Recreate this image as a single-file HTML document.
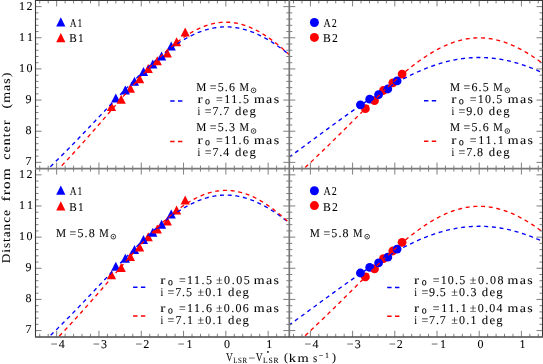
<!DOCTYPE html>
<html><head><meta charset="utf-8">
<style>
html,body{margin:0;padding:0;background:#fff;width:543px;height:364px;overflow:hidden}
svg{display:block;will-change:transform}
text{font-family:"Liberation Serif",serif;font-size:12px;fill:#000;stroke:#000;stroke-width:0.06px;text-rendering:geometricPrecision}
</style></head><body>
<svg width="543" height="364" viewBox="0 0 543 364">
<rect width="543" height="364" fill="#fff"/>
<path d="M111.50,102.10 L106.90,111.10 L116.10,111.10 Z" fill="#ff0000"/><path d="M115.80,93.50 L111.20,102.50 L120.40,102.50 Z" fill="#0000ff"/><path d="M121.20,94.70 L116.60,103.70 L125.80,103.70 Z" fill="#ff0000"/><path d="M130.40,83.80 L125.80,92.80 L135.00,92.80 Z" fill="#ff0000"/><path d="M125.30,85.50 L120.70,94.50 L129.90,94.50 Z" fill="#0000ff"/><path d="M134.50,76.80 L129.90,85.80 L139.10,85.80 Z" fill="#0000ff"/><path d="M139.60,74.20 L135.00,83.20 L144.20,83.20 Z" fill="#ff0000"/><path d="M148.20,64.00 L143.60,73.00 L152.80,73.00 Z" fill="#ff0000"/><path d="M143.50,66.90 L138.90,75.90 L148.10,75.90 Z" fill="#0000ff"/><path d="M152.80,59.50 L148.20,68.50 L157.40,68.50 Z" fill="#0000ff"/><path d="M157.30,56.20 L152.70,65.20 L161.90,65.20 Z" fill="#ff0000"/><path d="M167.30,48.40 L162.70,57.40 L171.90,57.40 Z" fill="#ff0000"/><path d="M161.60,51.50 L157.00,60.50 L166.20,60.50 Z" fill="#0000ff"/><path d="M171.20,41.40 L166.60,50.40 L175.80,50.40 Z" fill="#0000ff"/><path d="M176.60,37.20 L172.00,46.20 L181.20,46.20 Z" fill="#ff0000"/><path d="M185.20,27.40 L180.60,36.40 L189.80,36.40 Z" fill="#ff0000"/>
<circle cx="365.40" cy="108.70" r="4.40" fill="#ff0000"/><circle cx="374.50" cy="100.70" r="4.40" fill="#ff0000"/><circle cx="383.40" cy="90.50" r="4.40" fill="#ff0000"/><circle cx="392.80" cy="82.80" r="4.40" fill="#ff0000"/><circle cx="402.10" cy="74.10" r="4.40" fill="#ff0000"/><circle cx="360.40" cy="104.80" r="4.40" fill="#0000ff"/><circle cx="369.70" cy="99.20" r="4.40" fill="#0000ff"/><circle cx="378.60" cy="94.60" r="4.40" fill="#0000ff"/><circle cx="387.80" cy="89.00" r="4.40" fill="#0000ff"/><circle cx="397.10" cy="80.90" r="4.40" fill="#0000ff"/>
<path d="M111.50,270.30 L106.90,279.30 L116.10,279.30 Z" fill="#ff0000"/><path d="M115.80,261.70 L111.20,270.70 L120.40,270.70 Z" fill="#0000ff"/><path d="M121.20,262.90 L116.60,271.90 L125.80,271.90 Z" fill="#ff0000"/><path d="M130.40,252.00 L125.80,261.00 L135.00,261.00 Z" fill="#ff0000"/><path d="M125.30,253.70 L120.70,262.70 L129.90,262.70 Z" fill="#0000ff"/><path d="M134.50,245.00 L129.90,254.00 L139.10,254.00 Z" fill="#0000ff"/><path d="M139.60,242.40 L135.00,251.40 L144.20,251.40 Z" fill="#ff0000"/><path d="M148.20,232.20 L143.60,241.20 L152.80,241.20 Z" fill="#ff0000"/><path d="M143.50,235.10 L138.90,244.10 L148.10,244.10 Z" fill="#0000ff"/><path d="M152.80,227.70 L148.20,236.70 L157.40,236.70 Z" fill="#0000ff"/><path d="M157.30,224.40 L152.70,233.40 L161.90,233.40 Z" fill="#ff0000"/><path d="M167.30,216.60 L162.70,225.60 L171.90,225.60 Z" fill="#ff0000"/><path d="M161.60,219.70 L157.00,228.70 L166.20,228.70 Z" fill="#0000ff"/><path d="M171.20,209.60 L166.60,218.60 L175.80,218.60 Z" fill="#0000ff"/><path d="M176.60,205.40 L172.00,214.40 L181.20,214.40 Z" fill="#ff0000"/><path d="M185.20,195.60 L180.60,204.60 L189.80,204.60 Z" fill="#ff0000"/>
<circle cx="365.40" cy="276.90" r="4.40" fill="#ff0000"/><circle cx="374.50" cy="268.90" r="4.40" fill="#ff0000"/><circle cx="383.40" cy="258.70" r="4.40" fill="#ff0000"/><circle cx="392.80" cy="251.00" r="4.40" fill="#ff0000"/><circle cx="402.10" cy="242.30" r="4.40" fill="#ff0000"/><circle cx="360.40" cy="273.00" r="4.40" fill="#0000ff"/><circle cx="369.70" cy="267.40" r="4.40" fill="#0000ff"/><circle cx="378.60" cy="262.80" r="4.40" fill="#0000ff"/><circle cx="387.80" cy="257.20" r="4.40" fill="#0000ff"/><circle cx="397.10" cy="249.10" r="4.40" fill="#0000ff"/>
<path d="M60.80,17.30 L56.20,26.60 L65.40,26.60 Z" fill="#0000ff"/>
<path d="M60.80,33.00 L56.20,42.30 L65.40,42.30 Z" fill="#ff0000"/>
<circle cx="314.40" cy="22.50" r="4.50" fill="#0000ff"/>
<circle cx="314.40" cy="37.40" r="4.50" fill="#ff0000"/>
<path d="M60.80,185.50 L56.20,194.80 L65.40,194.80 Z" fill="#0000ff"/>
<path d="M60.80,201.20 L56.20,210.50 L65.40,210.50 Z" fill="#ff0000"/>
<circle cx="314.40" cy="190.70" r="4.50" fill="#0000ff"/>
<circle cx="314.40" cy="205.60" r="4.50" fill="#ff0000"/>
<g fill="none" stroke-width="1.35" stroke-dasharray="4.00 3.70">
<path d="M48.35,168.60 L49.25,167.74 L50.30,166.72 L51.36,165.70 L52.42,164.68 L53.48,163.65 L54.54,162.62 L55.59,161.59 L56.65,160.55 L57.71,159.51 L58.76,158.46 L59.82,157.42 L60.88,156.37 L61.94,155.31 L62.99,154.26 L64.05,153.20 L65.11,152.13 L66.17,151.07 L67.22,150.00 L68.28,148.93 L69.34,147.85 L70.40,146.78 L71.46,145.70 L72.51,144.62 L73.57,143.53 L74.63,142.45 L75.69,141.36 L76.74,140.26 L77.80,139.17 L78.86,138.08 L79.91,136.98 L80.97,135.88 L82.03,134.78 L83.09,133.67 L84.14,132.57 L85.20,131.46 L86.26,130.35 L87.32,129.24 L88.38,128.13 L89.43,127.02 L90.49,125.91 L91.55,124.79 L92.61,123.68 L93.66,122.56 L94.72,121.44 L95.78,120.33 L96.84,119.21 L97.89,118.09 L98.95,116.97 L100.01,115.85 L101.06,114.73 L102.12,113.61 L103.18,112.50 L104.24,111.38 L105.30,110.26 L106.35,109.14 L107.41,108.02 L108.47,106.91 L109.53,105.79 L110.58,104.68 L111.64,103.57 L112.70,102.46 L113.76,101.35 L114.81,100.24 L115.87,99.13 L116.93,98.03 L117.98,96.92 L119.04,95.82 L120.10,94.73 L121.16,93.63 L122.21,92.54 L123.27,91.45 L124.33,90.36 L125.39,89.28 L126.45,88.20 L127.50,87.12 L128.56,86.05 L129.62,84.98 L130.68,83.91 L131.73,82.85 L132.79,81.80 L133.85,80.74 L134.91,79.70 L135.96,78.65 L137.02,77.62 L138.08,76.59 L139.14,75.56 L140.19,74.54 L141.25,73.52 L142.31,72.51 L143.37,71.51 L144.42,70.51 L145.48,69.52 L146.54,68.54 L147.59,67.56 L148.65,66.59 L149.71,65.63 L150.77,64.68 L151.82,63.73 L152.88,62.79 L153.94,61.86 L155.00,60.94 L156.06,60.02 L157.11,59.12 L158.17,58.22 L159.23,57.33 L160.29,56.45 L161.34,55.58 L162.40,54.72 L163.46,53.87 L164.51,53.03 L165.57,52.20 L166.63,51.38 L167.69,50.57 L168.75,49.77 L169.80,48.99 L170.86,48.21 L171.92,47.44 L172.97,46.69 L174.03,45.95 L175.09,45.22 L176.15,44.50 L177.21,43.79 L178.26,43.10 L179.32,42.42 L180.38,41.75 L181.44,41.09 L182.49,40.45 L183.55,39.82 L184.61,39.20 L185.67,38.60 L186.72,38.01 L187.78,37.43 L188.84,36.87 L189.89,36.32 L190.95,35.79 L192.01,35.27 L193.07,34.76 L194.12,34.27 L195.18,33.80 L196.24,33.34 L197.30,32.89 L198.36,32.46 L199.41,32.05 L200.47,31.65 L201.53,31.26 L202.59,30.89 L203.64,30.54 L204.70,30.20 L205.76,29.88 L206.81,29.58 L207.87,29.29 L208.93,29.01 L209.99,28.76 L211.05,28.51 L212.10,28.29 L213.16,28.08 L214.22,27.89 L215.28,27.71 L216.33,27.55 L217.39,27.41 L218.45,27.29 L219.50,27.18 L220.56,27.09 L221.62,27.01 L222.68,26.95 L223.74,26.91 L224.79,26.88 L225.85,26.88 L226.91,26.88 L227.97,26.91 L229.02,26.95 L230.08,27.01 L231.14,27.09 L232.20,27.18 L233.25,27.29 L234.31,27.41 L235.37,27.55 L236.43,27.71 L237.48,27.89 L238.54,28.08 L239.60,28.29 L240.65,28.51 L241.71,28.76 L242.77,29.01 L243.83,29.29 L244.89,29.58 L245.94,29.88 L247.00,30.20 L248.06,30.54 L249.12,30.89 L250.17,31.26 L251.23,31.65 L252.29,32.05 L253.35,32.46 L254.40,32.89 L255.46,33.34 L256.52,33.80 L257.58,34.27 L258.63,34.76 L259.69,35.27 L260.75,35.79 L261.81,36.32 L262.86,36.87 L263.92,37.43 L264.98,38.01 L266.03,38.60 L267.09,39.20 L268.15,39.82 L269.21,40.45 L270.26,41.09 L271.32,41.75 L272.38,42.42 L273.44,43.10 L274.50,43.79 L275.55,44.50 L276.61,45.22 L277.67,45.95 L278.73,46.69 L279.78,47.44 L280.84,48.21 L281.90,48.99 L282.96,49.77 L284.01,50.57 L285.07,51.38 L286.13,52.20 L287.19,53.03 L288.24,53.87 L289.30,54.72" stroke="#0000ff" stroke-dashoffset="4.93"/>
<path d="M58.95,168.60 L59.82,167.70 L60.88,166.60 L61.94,165.49 L62.99,164.38 L64.05,163.26 L65.11,162.14 L66.17,161.02 L67.22,159.89 L68.28,158.76 L69.34,157.62 L70.40,156.48 L71.46,155.34 L72.51,154.19 L73.57,153.04 L74.63,151.88 L75.69,150.72 L76.74,149.56 L77.80,148.40 L78.86,147.23 L79.91,146.05 L80.97,144.88 L82.03,143.70 L83.09,142.52 L84.14,141.33 L85.20,140.14 L86.26,138.95 L87.32,137.76 L88.38,136.56 L89.43,135.36 L90.49,134.16 L91.55,132.96 L92.61,131.75 L93.66,130.54 L94.72,129.33 L95.78,128.12 L96.84,126.91 L97.89,125.69 L98.95,124.47 L100.01,123.26 L101.06,122.04 L102.12,120.82 L103.18,119.59 L104.24,118.37 L105.30,117.15 L106.35,115.92 L107.41,114.70 L108.47,113.47 L109.53,112.25 L110.58,111.02 L111.64,109.79 L112.70,108.57 L113.76,107.34 L114.81,106.12 L115.87,104.90 L116.93,103.67 L117.98,102.45 L119.04,101.23 L120.10,100.01 L121.16,98.80 L122.21,97.58 L123.27,96.37 L124.33,95.16 L125.39,93.95 L126.45,92.74 L127.50,91.54 L128.56,90.33 L129.62,89.14 L130.68,87.94 L131.73,86.75 L132.79,85.56 L133.85,84.38 L134.91,83.20 L135.96,82.03 L137.02,80.86 L138.08,79.69 L139.14,78.53 L140.19,77.38 L141.25,76.23 L142.31,75.08 L143.37,73.94 L144.42,72.81 L145.48,71.69 L146.54,70.57 L147.59,69.46 L148.65,68.35 L149.71,67.25 L150.77,66.16 L151.82,65.08 L152.88,64.01 L153.94,62.94 L155.00,61.88 L156.06,60.83 L157.11,59.79 L158.17,58.76 L159.23,57.74 L160.29,56.73 L161.34,55.73 L162.40,54.74 L163.46,53.76 L164.51,52.79 L165.57,51.83 L166.63,50.88 L167.69,49.94 L168.75,49.02 L169.80,48.11 L170.86,47.21 L171.92,46.32 L172.97,45.44 L174.03,44.58 L175.09,43.73 L176.15,42.89 L177.21,42.07 L178.26,41.26 L179.32,40.47 L180.38,39.69 L181.44,38.92 L182.49,38.17 L183.55,37.43 L184.61,36.71 L185.67,36.00 L186.72,35.31 L187.78,34.64 L188.84,33.98 L189.89,33.34 L190.95,32.71 L192.01,32.10 L193.07,31.51 L194.12,30.93 L195.18,30.37 L196.24,29.83 L197.30,29.31 L198.36,28.80 L199.41,28.31 L200.47,27.84 L201.53,27.39 L202.59,26.95 L203.64,26.53 L204.70,26.14 L205.76,25.76 L206.81,25.40 L207.87,25.05 L208.93,24.73 L209.99,24.43 L211.05,24.14 L212.10,23.88 L213.16,23.63 L214.22,23.40 L215.28,23.19 L216.33,23.01 L217.39,22.84 L218.45,22.69 L219.50,22.56 L220.56,22.45 L221.62,22.36 L222.68,22.29 L223.74,22.24 L224.79,22.21 L225.85,22.20 L226.91,22.21 L227.97,22.24 L229.02,22.29 L230.08,22.36 L231.14,22.45 L232.20,22.56 L233.25,22.69 L234.31,22.84 L235.37,23.01 L236.43,23.19 L237.48,23.40 L238.54,23.63 L239.60,23.88 L240.65,24.14 L241.71,24.43 L242.77,24.73 L243.83,25.05 L244.89,25.40 L245.94,25.76 L247.00,26.14 L248.06,26.53 L249.12,26.95 L250.17,27.39 L251.23,27.84 L252.29,28.31 L253.35,28.80 L254.40,29.31 L255.46,29.83 L256.52,30.37 L257.58,30.93 L258.63,31.51 L259.69,32.10 L260.75,32.71 L261.81,33.34 L262.86,33.98 L263.92,34.64 L264.98,35.31 L266.03,36.00 L267.09,36.71 L268.15,37.43 L269.21,38.17 L270.26,38.92 L271.32,39.69 L272.38,40.47 L273.44,41.26 L274.50,42.07 L275.55,42.89 L276.61,43.73 L277.67,44.58 L278.73,45.44 L279.78,46.32 L280.84,47.21 L281.90,48.11 L282.96,49.02 L284.01,49.94 L285.07,50.88 L286.13,51.83 L287.19,52.79 L288.24,53.76 L289.30,54.74" stroke="#ff0000" stroke-dashoffset="3.64"/>
<path d="M289.30,156.98 L290.36,156.22 L291.41,155.45 L292.47,154.69 L293.52,153.92 L294.57,153.15 L295.63,152.38 L296.69,151.61 L297.74,150.84 L298.80,150.06 L299.85,149.29 L300.91,148.52 L301.96,147.75 L303.02,146.97 L304.07,146.20 L305.12,145.42 L306.18,144.64 L307.24,143.87 L308.29,143.09 L309.34,142.32 L310.40,141.54 L311.45,140.76 L312.51,139.98 L313.56,139.21 L314.62,138.43 L315.68,137.65 L316.73,136.87 L317.79,136.10 L318.84,135.32 L319.90,134.54 L320.95,133.76 L322.00,132.99 L323.06,132.21 L324.12,131.44 L325.17,130.66 L326.23,129.89 L327.28,129.11 L328.34,128.34 L329.39,127.56 L330.44,126.79 L331.50,126.02 L332.56,125.25 L333.61,124.48 L334.67,123.71 L335.72,122.94 L336.77,122.18 L337.83,121.41 L338.88,120.65 L339.94,119.88 L341.00,119.12 L342.05,118.36 L343.11,117.60 L344.16,116.84 L345.22,116.09 L346.27,115.33 L347.32,114.58 L348.38,113.83 L349.44,113.08 L350.49,112.33 L351.55,111.59 L352.60,110.84 L353.65,110.10 L354.71,109.36 L355.76,108.63 L356.82,107.89 L357.88,107.16 L358.93,106.43 L359.99,105.70 L361.04,104.98 L362.10,104.26 L363.15,103.54 L364.21,102.82 L365.26,102.11 L366.31,101.40 L367.37,100.69 L368.43,99.99 L369.48,99.28 L370.53,98.59 L371.59,97.89 L372.64,97.20 L373.70,96.51 L374.75,95.83 L375.81,95.15 L376.87,94.47 L377.92,93.80 L378.98,93.13 L380.03,92.46 L381.09,91.80 L382.14,91.14 L383.19,90.49 L384.25,89.84 L385.31,89.20 L386.36,88.56 L387.42,87.92 L388.47,87.29 L389.52,86.66 L390.58,86.04 L391.63,85.42 L392.69,84.81 L393.75,84.20 L394.80,83.60 L395.86,83.00 L396.91,82.41 L397.97,81.83 L399.02,81.24 L400.07,80.67 L401.13,80.10 L402.19,79.53 L403.24,78.97 L404.30,78.42 L405.35,77.87 L406.40,77.33 L407.46,76.79 L408.51,76.26 L409.57,75.73 L410.62,75.22 L411.68,74.70 L412.74,74.20 L413.79,73.70 L414.85,73.21 L415.90,72.72 L416.95,72.24 L418.01,71.76 L419.07,71.30 L420.12,70.84 L421.18,70.38 L422.23,69.94 L423.28,69.50 L424.34,69.07 L425.39,68.64 L426.45,68.22 L427.50,67.81 L428.56,67.41 L429.62,67.01 L430.67,66.62 L431.73,66.24 L432.78,65.86 L433.84,65.50 L434.89,65.14 L435.95,64.79 L437.00,64.44 L438.06,64.11 L439.11,63.78 L440.16,63.46 L441.22,63.15 L442.27,62.84 L443.33,62.54 L444.38,62.26 L445.44,61.98 L446.50,61.70 L447.55,61.44 L448.61,61.18 L449.66,60.94 L450.72,60.70 L451.77,60.47 L452.83,60.24 L453.88,60.03 L454.94,59.83 L455.99,59.63 L457.04,59.44 L458.10,59.26 L459.16,59.09 L460.21,58.93 L461.26,58.77 L462.32,58.63 L463.38,58.49 L464.43,58.36 L465.49,58.24 L466.54,58.13 L467.60,58.03 L468.65,57.94 L469.71,57.85 L470.76,57.78 L471.81,57.71 L472.87,57.65 L473.92,57.61 L474.98,57.57 L476.03,57.53 L477.09,57.51 L478.14,57.50 L479.20,57.49 L480.25,57.50 L481.31,57.51 L482.37,57.53 L483.42,57.57 L484.48,57.61 L485.53,57.65 L486.59,57.71 L487.64,57.78 L488.69,57.85 L489.75,57.94 L490.81,58.03 L491.86,58.13 L492.92,58.24 L493.97,58.36 L495.02,58.49 L496.08,58.63 L497.13,58.77 L498.19,58.93 L499.25,59.09 L500.30,59.26 L501.36,59.44 L502.41,59.63 L503.47,59.83 L504.52,60.03 L505.57,60.24 L506.63,60.47 L507.68,60.70 L508.74,60.94 L509.79,61.18 L510.85,61.44 L511.91,61.70 L512.96,61.98 L514.01,62.26 L515.07,62.54 L516.12,62.84 L517.18,63.15 L518.24,63.46 L519.29,63.78 L520.35,64.11 L521.40,64.44 L522.46,64.79 L523.51,65.14 L524.57,65.50 L525.62,65.86 L526.67,66.24 L527.73,66.62 L528.78,67.01 L529.84,67.41 L530.89,67.81 L531.95,68.22 L533.00,68.64 L534.06,69.07 L535.12,69.50 L536.17,69.94 L537.23,70.38 L538.28,70.84 L539.34,71.30 L540.39,71.76 L541.44,72.24 L542.50,72.72" stroke="#0000ff" stroke-dashoffset="0.45"/>
<path d="M303.98,168.60 L304.07,168.52 L305.12,167.54 L306.18,166.57 L307.24,165.58 L308.29,164.60 L309.34,163.61 L310.40,162.62 L311.45,161.63 L312.51,160.63 L313.56,159.63 L314.62,158.63 L315.68,157.63 L316.73,156.62 L317.79,155.61 L318.84,154.60 L319.90,153.59 L320.95,152.57 L322.00,151.55 L323.06,150.53 L324.12,149.51 L325.17,148.49 L326.23,147.46 L327.28,146.43 L328.34,145.40 L329.39,144.36 L330.44,143.33 L331.50,142.29 L332.56,141.26 L333.61,140.22 L334.67,139.18 L335.72,138.13 L336.77,137.09 L337.83,136.04 L338.88,135.00 L339.94,133.95 L341.00,132.90 L342.05,131.85 L343.11,130.80 L344.16,129.75 L345.22,128.70 L346.27,127.65 L347.32,126.60 L348.38,125.55 L349.44,124.49 L350.49,123.44 L351.55,122.39 L352.60,121.34 L353.65,120.28 L354.71,119.23 L355.76,118.18 L356.82,117.13 L357.88,116.08 L358.93,115.03 L359.99,113.98 L361.04,112.93 L362.10,111.89 L363.15,110.84 L364.21,109.80 L365.26,108.76 L366.31,107.72 L367.37,106.68 L368.43,105.64 L369.48,104.61 L370.53,103.57 L371.59,102.54 L372.64,101.51 L373.70,100.49 L374.75,99.47 L375.81,98.45 L376.87,97.43 L377.92,96.42 L378.98,95.41 L380.03,94.40 L381.09,93.40 L382.14,92.40 L383.19,91.40 L384.25,90.41 L385.31,89.43 L386.36,88.44 L387.42,87.47 L388.47,86.49 L389.52,85.52 L390.58,84.56 L391.63,83.60 L392.69,82.65 L393.75,81.70 L394.80,80.76 L395.86,79.83 L396.91,78.90 L397.97,77.97 L399.02,77.06 L400.07,76.15 L401.13,75.24 L402.19,74.34 L403.24,73.45 L404.30,72.57 L405.35,71.70 L406.40,70.83 L407.46,69.97 L408.51,69.12 L409.57,68.27 L410.62,67.43 L411.68,66.61 L412.74,65.79 L413.79,64.98 L414.85,64.18 L415.90,63.38 L416.95,62.60 L418.01,61.83 L419.07,61.06 L420.12,60.31 L421.18,59.56 L422.23,58.83 L423.28,58.10 L424.34,57.39 L425.39,56.69 L426.45,55.99 L427.50,55.31 L428.56,54.64 L429.62,53.98 L430.67,53.33 L431.73,52.69 L432.78,52.07 L433.84,51.45 L434.89,50.85 L435.95,50.26 L437.00,49.68 L438.06,49.12 L439.11,48.56 L440.16,48.02 L441.22,47.50 L442.27,46.98 L443.33,46.48 L444.38,45.99 L445.44,45.52 L446.50,45.05 L447.55,44.60 L448.61,44.17 L449.66,43.75 L450.72,43.34 L451.77,42.95 L452.83,42.57 L453.88,42.20 L454.94,41.85 L455.99,41.51 L457.04,41.19 L458.10,40.88 L459.16,40.59 L460.21,40.31 L461.26,40.04 L462.32,39.79 L463.38,39.56 L464.43,39.34 L465.49,39.13 L466.54,38.94 L467.60,38.77 L468.65,38.61 L469.71,38.46 L470.76,38.33 L471.81,38.22 L472.87,38.12 L473.92,38.03 L474.98,37.96 L476.03,37.91 L477.09,37.87 L478.14,37.85 L479.20,37.84 L480.25,37.85 L481.31,37.87 L482.37,37.91 L483.42,37.96 L484.48,38.03 L485.53,38.12 L486.59,38.22 L487.64,38.33 L488.69,38.46 L489.75,38.61 L490.81,38.77 L491.86,38.94 L492.92,39.13 L493.97,39.34 L495.02,39.56 L496.08,39.79 L497.13,40.04 L498.19,40.31 L499.25,40.59 L500.30,40.88 L501.36,41.19 L502.41,41.51 L503.47,41.85 L504.52,42.20 L505.57,42.57 L506.63,42.95 L507.68,43.34 L508.74,43.75 L509.79,44.17 L510.85,44.60 L511.91,45.05 L512.96,45.52 L514.01,45.99 L515.07,46.48 L516.12,46.98 L517.18,47.50 L518.24,48.02 L519.29,48.56 L520.35,49.12 L521.40,49.68 L522.46,50.26 L523.51,50.85 L524.57,51.45 L525.62,52.07 L526.67,52.69 L527.73,53.33 L528.78,53.98 L529.84,54.64 L530.89,55.31 L531.95,55.99 L533.00,56.69 L534.06,57.39 L535.12,58.10 L536.17,58.83 L537.23,59.56 L538.28,60.31 L539.34,61.06 L540.39,61.83 L541.44,62.60 L542.50,63.38" stroke="#ff0000" stroke-dashoffset="5.97"/>
<path d="M49.05,336.80 L49.25,336.61 L50.30,335.59 L51.36,334.57 L52.42,333.54 L53.48,332.51 L54.54,331.48 L55.59,330.44 L56.65,329.40 L57.71,328.36 L58.76,327.31 L59.82,326.27 L60.88,325.21 L61.94,324.16 L62.99,323.10 L64.05,322.04 L65.11,320.97 L66.17,319.90 L67.22,318.83 L68.28,317.76 L69.34,316.68 L70.40,315.60 L71.46,314.52 L72.51,313.43 L73.57,312.35 L74.63,311.26 L75.69,310.17 L76.74,309.07 L77.80,307.97 L78.86,306.88 L79.91,305.77 L80.97,304.67 L82.03,303.57 L83.09,302.46 L84.14,301.35 L85.20,300.24 L86.26,299.13 L87.32,298.02 L88.38,296.90 L89.43,295.79 L90.49,294.67 L91.55,293.55 L92.61,292.43 L93.66,291.31 L94.72,290.19 L95.78,289.07 L96.84,287.95 L97.89,286.82 L98.95,285.70 L100.01,284.58 L101.06,283.45 L102.12,282.33 L103.18,281.21 L104.24,280.08 L105.30,278.96 L106.35,277.84 L107.41,276.72 L108.47,275.60 L109.53,274.48 L110.58,273.36 L111.64,272.24 L112.70,271.12 L113.76,270.01 L114.81,268.90 L115.87,267.78 L116.93,266.67 L117.98,265.57 L119.04,264.46 L120.10,263.36 L121.16,262.26 L122.21,261.16 L123.27,260.06 L124.33,258.97 L125.39,257.88 L126.45,256.80 L127.50,255.72 L128.56,254.64 L129.62,253.56 L130.68,252.49 L131.73,251.42 L132.79,250.36 L133.85,249.30 L134.91,248.25 L135.96,247.20 L137.02,246.16 L138.08,245.12 L139.14,244.09 L140.19,243.06 L141.25,242.04 L142.31,241.03 L143.37,240.02 L144.42,239.01 L145.48,238.02 L146.54,237.03 L147.59,236.05 L148.65,235.07 L149.71,234.10 L150.77,233.14 L151.82,232.19 L152.88,231.24 L153.94,230.31 L155.00,229.38 L156.06,228.46 L157.11,227.55 L158.17,226.64 L159.23,225.75 L160.29,224.87 L161.34,223.99 L162.40,223.12 L163.46,222.27 L164.51,221.42 L165.57,220.59 L166.63,219.76 L167.69,218.95 L168.75,218.14 L169.80,217.35 L170.86,216.57 L171.92,215.80 L172.97,215.04 L174.03,214.29 L175.09,213.55 L176.15,212.83 L177.21,212.12 L178.26,211.42 L179.32,210.73 L180.38,210.06 L181.44,209.40 L182.49,208.75 L183.55,208.12 L184.61,207.50 L185.67,206.89 L186.72,206.29 L187.78,205.71 L188.84,205.15 L189.89,204.60 L190.95,204.06 L192.01,203.53 L193.07,203.03 L194.12,202.53 L195.18,202.05 L196.24,201.59 L197.30,201.14 L198.36,200.71 L199.41,200.29 L200.47,199.88 L201.53,199.50 L202.59,199.12 L203.64,198.77 L204.70,198.43 L205.76,198.10 L206.81,197.80 L207.87,197.50 L208.93,197.23 L209.99,196.97 L211.05,196.73 L212.10,196.50 L213.16,196.29 L214.22,196.10 L215.28,195.92 L216.33,195.76 L217.39,195.62 L218.45,195.49 L219.50,195.38 L220.56,195.29 L221.62,195.21 L222.68,195.15 L223.74,195.11 L224.79,195.08 L225.85,195.08 L226.91,195.08 L227.97,195.11 L229.02,195.15 L230.08,195.21 L231.14,195.29 L232.20,195.38 L233.25,195.49 L234.31,195.62 L235.37,195.76 L236.43,195.92 L237.48,196.10 L238.54,196.29 L239.60,196.50 L240.65,196.73 L241.71,196.97 L242.77,197.23 L243.83,197.50 L244.89,197.80 L245.94,198.10 L247.00,198.43 L248.06,198.77 L249.12,199.12 L250.17,199.50 L251.23,199.88 L252.29,200.29 L253.35,200.71 L254.40,201.14 L255.46,201.59 L256.52,202.05 L257.58,202.53 L258.63,203.03 L259.69,203.53 L260.75,204.06 L261.81,204.60 L262.86,205.15 L263.92,205.71 L264.98,206.29 L266.03,206.89 L267.09,207.50 L268.15,208.12 L269.21,208.75 L270.26,209.40 L271.32,210.06 L272.38,210.73 L273.44,211.42 L274.50,212.12 L275.55,212.83 L276.61,213.55 L277.67,214.29 L278.73,215.04 L279.78,215.80 L280.84,216.57 L281.90,217.35 L282.96,218.14 L284.01,218.95 L285.07,219.76 L286.13,220.59 L287.19,221.42 L288.24,222.27 L289.30,223.12" stroke="#0000ff" stroke-dashoffset="5.47"/>
<path d="M58.58,336.80 L58.76,336.61 L59.82,335.51 L60.88,334.41 L61.94,333.30 L62.99,332.19 L64.05,331.08 L65.11,329.96 L66.17,328.83 L67.22,327.71 L68.28,326.58 L69.34,325.44 L70.40,324.30 L71.46,323.16 L72.51,322.01 L73.57,320.86 L74.63,319.71 L75.69,318.55 L76.74,317.39 L77.80,316.23 L78.86,315.06 L79.91,313.89 L80.97,312.71 L82.03,311.54 L83.09,310.36 L84.14,309.17 L85.20,307.99 L86.26,306.80 L87.32,305.60 L88.38,304.41 L89.43,303.21 L90.49,302.01 L91.55,300.81 L92.61,299.61 L93.66,298.40 L94.72,297.19 L95.78,295.98 L96.84,294.77 L97.89,293.56 L98.95,292.34 L100.01,291.13 L101.06,289.91 L102.12,288.69 L103.18,287.47 L104.24,286.25 L105.30,285.03 L106.35,283.81 L107.41,282.59 L108.47,281.36 L109.53,280.14 L110.58,278.92 L111.64,277.70 L112.70,276.47 L113.76,275.25 L114.81,274.03 L115.87,272.81 L116.93,271.59 L117.98,270.37 L119.04,269.15 L120.10,267.94 L121.16,266.72 L122.21,265.51 L123.27,264.30 L124.33,263.09 L125.39,261.89 L126.45,260.68 L127.50,259.48 L128.56,258.29 L129.62,257.09 L130.68,255.90 L131.73,254.71 L132.79,253.53 L133.85,252.35 L134.91,251.17 L135.96,250.00 L137.02,248.84 L138.08,247.67 L139.14,246.52 L140.19,245.37 L141.25,244.22 L142.31,243.08 L143.37,241.94 L144.42,240.82 L145.48,239.69 L146.54,238.58 L147.59,237.47 L148.65,236.37 L149.71,235.28 L150.77,234.19 L151.82,233.11 L152.88,232.04 L153.94,230.98 L155.00,229.92 L156.06,228.88 L157.11,227.84 L158.17,226.82 L159.23,225.80 L160.29,224.79 L161.34,223.79 L162.40,222.80 L163.46,221.83 L164.51,220.86 L165.57,219.91 L166.63,218.96 L167.69,218.03 L168.75,217.11 L169.80,216.20 L170.86,215.30 L171.92,214.42 L172.97,213.54 L174.03,212.68 L175.09,211.84 L176.15,211.01 L177.21,210.19 L178.26,209.38 L179.32,208.59 L180.38,207.81 L181.44,207.05 L182.49,206.30 L183.55,205.57 L184.61,204.85 L185.67,204.14 L186.72,203.46 L187.78,202.78 L188.84,202.13 L189.89,201.49 L190.95,200.87 L192.01,200.26 L193.07,199.67 L194.12,199.09 L195.18,198.54 L196.24,198.00 L197.30,197.48 L198.36,196.97 L199.41,196.48 L200.47,196.01 L201.53,195.56 L202.59,195.13 L203.64,194.72 L204.70,194.32 L205.76,193.94 L206.81,193.58 L207.87,193.24 L208.93,192.92 L209.99,192.62 L211.05,192.33 L212.10,192.07 L213.16,191.82 L214.22,191.60 L215.28,191.39 L216.33,191.20 L217.39,191.04 L218.45,190.89 L219.50,190.76 L220.56,190.65 L221.62,190.56 L222.68,190.49 L223.74,190.44 L224.79,190.41 L225.85,190.40 L226.91,190.41 L227.97,190.44 L229.02,190.49 L230.08,190.56 L231.14,190.65 L232.20,190.76 L233.25,190.89 L234.31,191.04 L235.37,191.20 L236.43,191.39 L237.48,191.60 L238.54,191.82 L239.60,192.07 L240.65,192.33 L241.71,192.62 L242.77,192.92 L243.83,193.24 L244.89,193.58 L245.94,193.94 L247.00,194.32 L248.06,194.72 L249.12,195.13 L250.17,195.56 L251.23,196.01 L252.29,196.48 L253.35,196.97 L254.40,197.48 L255.46,198.00 L256.52,198.54 L257.58,199.09 L258.63,199.67 L259.69,200.26 L260.75,200.87 L261.81,201.49 L262.86,202.13 L263.92,202.78 L264.98,203.46 L266.03,204.14 L267.09,204.85 L268.15,205.57 L269.21,206.30 L270.26,207.05 L271.32,207.81 L272.38,208.59 L273.44,209.38 L274.50,210.19 L275.55,211.01 L276.61,211.84 L277.67,212.68 L278.73,213.54 L279.78,214.42 L280.84,215.30 L281.90,216.20 L282.96,217.11 L284.01,218.03 L285.07,218.96 L286.13,219.91 L287.19,220.86 L288.24,221.83 L289.30,222.80" stroke="#ff0000" stroke-dashoffset="6.76"/>
<path d="M289.30,324.90 L290.36,324.14 L291.41,323.38 L292.47,322.62 L293.52,321.86 L294.57,321.09 L295.63,320.33 L296.69,319.56 L297.74,318.79 L298.80,318.03 L299.85,317.26 L300.91,316.49 L301.96,315.72 L303.02,314.95 L304.07,314.18 L305.12,313.41 L306.18,312.64 L307.24,311.87 L308.29,311.10 L309.34,310.33 L310.40,309.55 L311.45,308.78 L312.51,308.01 L313.56,307.24 L314.62,306.46 L315.68,305.69 L316.73,304.92 L317.79,304.15 L318.84,303.38 L319.90,302.61 L320.95,301.83 L322.00,301.06 L323.06,300.29 L324.12,299.52 L325.17,298.75 L326.23,297.98 L327.28,297.21 L328.34,296.45 L329.39,295.68 L330.44,294.91 L331.50,294.15 L332.56,293.38 L333.61,292.62 L334.67,291.85 L335.72,291.09 L336.77,290.33 L337.83,289.57 L338.88,288.81 L339.94,288.06 L341.00,287.30 L342.05,286.55 L343.11,285.79 L344.16,285.04 L345.22,284.29 L346.27,283.54 L347.32,282.80 L348.38,282.05 L349.44,281.31 L350.49,280.57 L351.55,279.83 L352.60,279.09 L353.65,278.36 L354.71,277.62 L355.76,276.89 L356.82,276.17 L357.88,275.44 L358.93,274.72 L359.99,274.00 L361.04,273.28 L362.10,272.56 L363.15,271.85 L364.21,271.14 L365.26,270.43 L366.31,269.73 L367.37,269.03 L368.43,268.33 L369.48,267.64 L370.53,266.94 L371.59,266.26 L372.64,265.57 L373.70,264.89 L374.75,264.21 L375.81,263.54 L376.87,262.87 L377.92,262.20 L378.98,261.54 L380.03,260.88 L381.09,260.22 L382.14,259.57 L383.19,258.93 L384.25,258.28 L385.31,257.64 L386.36,257.01 L387.42,256.38 L388.47,255.76 L389.52,255.14 L390.58,254.52 L391.63,253.91 L392.69,253.30 L393.75,252.70 L394.80,252.11 L395.86,251.51 L396.91,250.93 L397.97,250.35 L399.02,249.77 L400.07,249.20 L401.13,248.64 L402.19,248.08 L403.24,247.52 L404.30,246.98 L405.35,246.43 L406.40,245.90 L407.46,245.36 L408.51,244.84 L409.57,244.32 L410.62,243.81 L411.68,243.30 L412.74,242.80 L413.79,242.31 L414.85,241.82 L415.90,241.34 L416.95,240.86 L418.01,240.39 L419.07,239.93 L420.12,239.48 L421.18,239.03 L422.23,238.59 L423.28,238.15 L424.34,237.72 L425.39,237.30 L426.45,236.89 L427.50,236.48 L428.56,236.08 L429.62,235.69 L430.67,235.31 L431.73,234.93 L432.78,234.56 L433.84,234.20 L434.89,233.84 L435.95,233.49 L437.00,233.15 L438.06,232.82 L439.11,232.50 L440.16,232.18 L441.22,231.87 L442.27,231.57 L443.33,231.28 L444.38,230.99 L445.44,230.72 L446.50,230.45 L447.55,230.19 L448.61,229.93 L449.66,229.69 L450.72,229.45 L451.77,229.22 L452.83,229.00 L453.88,228.79 L454.94,228.59 L455.99,228.40 L457.04,228.21 L458.10,228.03 L459.16,227.86 L460.21,227.70 L461.26,227.55 L462.32,227.41 L463.38,227.27 L464.43,227.14 L465.49,227.03 L466.54,226.92 L467.60,226.82 L468.65,226.72 L469.71,226.64 L470.76,226.57 L471.81,226.50 L472.87,226.44 L473.92,226.40 L474.98,226.36 L476.03,226.33 L477.09,226.30 L478.14,226.29 L479.20,226.29 L480.25,226.29 L481.31,226.30 L482.37,226.33 L483.42,226.36 L484.48,226.40 L485.53,226.44 L486.59,226.50 L487.64,226.57 L488.69,226.64 L489.75,226.72 L490.81,226.82 L491.86,226.92 L492.92,227.03 L493.97,227.14 L495.02,227.27 L496.08,227.41 L497.13,227.55 L498.19,227.70 L499.25,227.86 L500.30,228.03 L501.36,228.21 L502.41,228.40 L503.47,228.59 L504.52,228.79 L505.57,229.00 L506.63,229.22 L507.68,229.45 L508.74,229.69 L509.79,229.93 L510.85,230.19 L511.91,230.45 L512.96,230.72 L514.01,230.99 L515.07,231.28 L516.12,231.57 L517.18,231.87 L518.24,232.18 L519.29,232.50 L520.35,232.82 L521.40,233.15 L522.46,233.49 L523.51,233.84 L524.57,234.20 L525.62,234.56 L526.67,234.93 L527.73,235.31 L528.78,235.69 L529.84,236.08 L530.89,236.48 L531.95,236.89 L533.00,237.30 L534.06,237.72 L535.12,238.15 L536.17,238.59 L537.23,239.03 L538.28,239.48 L539.34,239.93 L540.39,240.39 L541.44,240.86 L542.50,241.34" stroke="#0000ff" stroke-dashoffset="0.78"/>
<path d="M303.98,336.80 L304.07,336.72 L305.12,335.74 L306.18,334.76 L307.24,333.78 L308.29,332.80 L309.34,331.81 L310.40,330.83 L311.45,329.83 L312.51,328.84 L313.56,327.84 L314.62,326.84 L315.68,325.84 L316.73,324.83 L317.79,323.83 L318.84,322.82 L319.90,321.80 L320.95,320.79 L322.00,319.77 L323.06,318.75 L324.12,317.73 L325.17,316.71 L326.23,315.68 L327.28,314.65 L328.34,313.62 L329.39,312.59 L330.44,311.56 L331.50,310.53 L332.56,309.49 L333.61,308.45 L334.67,307.41 L335.72,306.37 L336.77,305.33 L337.83,304.29 L338.88,303.24 L339.94,302.20 L341.00,301.15 L342.05,300.10 L343.11,299.05 L344.16,298.00 L345.22,296.95 L346.27,295.91 L347.32,294.85 L348.38,293.80 L349.44,292.75 L350.49,291.70 L351.55,290.65 L352.60,289.60 L353.65,288.55 L354.71,287.50 L355.76,286.45 L356.82,285.40 L357.88,284.35 L358.93,283.31 L359.99,282.26 L361.04,281.21 L362.10,280.17 L363.15,279.13 L364.21,278.08 L365.26,277.04 L366.31,276.01 L367.37,274.97 L368.43,273.93 L369.48,272.90 L370.53,271.87 L371.59,270.84 L372.64,269.82 L373.70,268.79 L374.75,267.77 L375.81,266.75 L376.87,265.74 L377.92,264.73 L378.98,263.72 L380.03,262.72 L381.09,261.72 L382.14,260.72 L383.19,259.73 L384.25,258.74 L385.31,257.75 L386.36,256.77 L387.42,255.80 L388.47,254.82 L389.52,253.86 L390.58,252.90 L391.63,251.94 L392.69,250.99 L393.75,250.05 L394.80,249.11 L395.86,248.17 L396.91,247.24 L397.97,246.32 L399.02,245.41 L400.07,244.50 L401.13,243.60 L402.19,242.70 L403.24,241.82 L404.30,240.93 L405.35,240.06 L406.40,239.19 L407.46,238.34 L408.51,237.49 L409.57,236.64 L410.62,235.81 L411.68,234.98 L412.74,234.17 L413.79,233.36 L414.85,232.56 L415.90,231.77 L416.95,230.99 L418.01,230.21 L419.07,229.45 L420.12,228.70 L421.18,227.96 L422.23,227.22 L423.28,226.50 L424.34,225.79 L425.39,225.09 L426.45,224.39 L427.50,223.71 L428.56,223.04 L429.62,222.39 L430.67,221.74 L431.73,221.10 L432.78,220.48 L433.84,219.87 L434.89,219.27 L435.95,218.68 L437.00,218.10 L438.06,217.54 L439.11,216.99 L440.16,216.45 L441.22,215.92 L442.27,215.41 L443.33,214.91 L444.38,214.42 L445.44,213.94 L446.50,213.48 L447.55,213.04 L448.61,212.60 L449.66,212.18 L450.72,211.77 L451.77,211.38 L452.83,211.00 L453.88,210.64 L454.94,210.29 L455.99,209.95 L457.04,209.63 L458.10,209.32 L459.16,209.03 L460.21,208.75 L461.26,208.48 L462.32,208.24 L463.38,208.00 L464.43,207.78 L465.49,207.58 L466.54,207.39 L467.60,207.21 L468.65,207.05 L469.71,206.91 L470.76,206.78 L471.81,206.66 L472.87,206.56 L473.92,206.48 L474.98,206.41 L476.03,206.36 L477.09,206.32 L478.14,206.30 L479.20,206.29 L480.25,206.30 L481.31,206.32 L482.37,206.36 L483.42,206.41 L484.48,206.48 L485.53,206.56 L486.59,206.66 L487.64,206.78 L488.69,206.91 L489.75,207.05 L490.81,207.21 L491.86,207.39 L492.92,207.58 L493.97,207.78 L495.02,208.00 L496.08,208.24 L497.13,208.48 L498.19,208.75 L499.25,209.03 L500.30,209.32 L501.36,209.63 L502.41,209.95 L503.47,210.29 L504.52,210.64 L505.57,211.00 L506.63,211.38 L507.68,211.77 L508.74,212.18 L509.79,212.60 L510.85,213.04 L511.91,213.48 L512.96,213.94 L514.01,214.42 L515.07,214.91 L516.12,215.41 L517.18,215.92 L518.24,216.45 L519.29,216.99 L520.35,217.54 L521.40,218.10 L522.46,218.68 L523.51,219.27 L524.57,219.87 L525.62,220.48 L526.67,221.10 L527.73,221.74 L528.78,222.39 L529.84,223.04 L530.89,223.71 L531.95,224.39 L533.00,225.09 L534.06,225.79 L535.12,226.50 L536.17,227.22 L537.23,227.96 L538.28,228.70 L539.34,229.45 L540.39,230.21 L541.44,230.99 L542.50,231.77" stroke="#ff0000" stroke-dashoffset="6.12"/>
</g>
<path d="M39.73,168.60v-3.0M39.73,0.40v3.0M48.19,168.60v-3.0M48.19,0.40v3.0M56.65,168.60v-6.0M56.65,0.40v6.0M65.11,168.60v-3.0M65.11,0.40v3.0M73.57,168.60v-3.0M73.57,0.40v3.0M82.03,168.60v-3.0M82.03,0.40v3.0M90.49,168.60v-3.0M90.49,0.40v3.0M98.95,168.60v-6.0M98.95,0.40v6.0M107.41,168.60v-3.0M107.41,0.40v3.0M115.87,168.60v-3.0M115.87,0.40v3.0M124.33,168.60v-3.0M124.33,0.40v3.0M132.79,168.60v-3.0M132.79,0.40v3.0M141.25,168.60v-6.0M141.25,0.40v6.0M149.71,168.60v-3.0M149.71,0.40v3.0M158.17,168.60v-3.0M158.17,0.40v3.0M166.63,168.60v-3.0M166.63,0.40v3.0M175.09,168.60v-3.0M175.09,0.40v3.0M183.55,168.60v-6.0M183.55,0.40v6.0M192.01,168.60v-3.0M192.01,0.40v3.0M200.47,168.60v-3.0M200.47,0.40v3.0M208.93,168.60v-3.0M208.93,0.40v3.0M217.39,168.60v-3.0M217.39,0.40v3.0M225.85,168.60v-6.0M225.85,0.40v6.0M234.31,168.60v-3.0M234.31,0.40v3.0M242.77,168.60v-3.0M242.77,0.40v3.0M251.23,168.60v-3.0M251.23,0.40v3.0M259.69,168.60v-3.0M259.69,0.40v3.0M268.15,168.60v-6.0M268.15,0.40v6.0M276.61,168.60v-3.0M276.61,0.40v3.0M285.07,168.60v-3.0M285.07,0.40v3.0M35.50,162.37h6.0M289.30,162.37h-6.0M35.50,156.14h3.0M289.30,156.14h-3.0M35.50,149.91h3.0M289.30,149.91h-3.0M35.50,143.68h3.0M289.30,143.68h-3.0M35.50,137.45h3.0M289.30,137.45h-3.0M35.50,131.22h6.0M289.30,131.22h-6.0M35.50,124.99h3.0M289.30,124.99h-3.0M35.50,118.76h3.0M289.30,118.76h-3.0M35.50,112.53h3.0M289.30,112.53h-3.0M35.50,106.30h3.0M289.30,106.30h-3.0M35.50,100.07h6.0M289.30,100.07h-6.0M35.50,93.84h3.0M289.30,93.84h-3.0M35.50,87.61h3.0M289.30,87.61h-3.0M35.50,81.39h3.0M289.30,81.39h-3.0M35.50,75.16h3.0M289.30,75.16h-3.0M35.50,68.93h6.0M289.30,68.93h-6.0M35.50,62.70h3.0M289.30,62.70h-3.0M35.50,56.47h3.0M289.30,56.47h-3.0M35.50,50.24h3.0M289.30,50.24h-3.0M35.50,44.01h3.0M289.30,44.01h-3.0M35.50,37.78h6.0M289.30,37.78h-6.0M35.50,31.55h3.0M289.30,31.55h-3.0M35.50,25.32h3.0M289.30,25.32h-3.0M35.50,19.09h3.0M289.30,19.09h-3.0M35.50,12.86h3.0M289.30,12.86h-3.0M35.50,6.63h6.0M289.30,6.63h-6.0M293.52,168.60v-3.0M293.52,0.40v3.0M301.96,168.60v-3.0M301.96,0.40v3.0M310.40,168.60v-6.0M310.40,0.40v6.0M318.84,168.60v-3.0M318.84,0.40v3.0M327.28,168.60v-3.0M327.28,0.40v3.0M335.72,168.60v-3.0M335.72,0.40v3.0M344.16,168.60v-3.0M344.16,0.40v3.0M352.60,168.60v-6.0M352.60,0.40v6.0M361.04,168.60v-3.0M361.04,0.40v3.0M369.48,168.60v-3.0M369.48,0.40v3.0M377.92,168.60v-3.0M377.92,0.40v3.0M386.36,168.60v-3.0M386.36,0.40v3.0M394.80,168.60v-6.0M394.80,0.40v6.0M403.24,168.60v-3.0M403.24,0.40v3.0M411.68,168.60v-3.0M411.68,0.40v3.0M420.12,168.60v-3.0M420.12,0.40v3.0M428.56,168.60v-3.0M428.56,0.40v3.0M437.00,168.60v-6.0M437.00,0.40v6.0M445.44,168.60v-3.0M445.44,0.40v3.0M453.88,168.60v-3.0M453.88,0.40v3.0M462.32,168.60v-3.0M462.32,0.40v3.0M470.76,168.60v-3.0M470.76,0.40v3.0M479.20,168.60v-6.0M479.20,0.40v6.0M487.64,168.60v-3.0M487.64,0.40v3.0M496.08,168.60v-3.0M496.08,0.40v3.0M504.52,168.60v-3.0M504.52,0.40v3.0M512.96,168.60v-3.0M512.96,0.40v3.0M521.40,168.60v-6.0M521.40,0.40v6.0M529.84,168.60v-3.0M529.84,0.40v3.0M538.28,168.60v-3.0M538.28,0.40v3.0M289.30,162.37h6.0M542.50,162.37h-6.0M289.30,156.14h3.0M542.50,156.14h-3.0M289.30,149.91h3.0M542.50,149.91h-3.0M289.30,143.68h3.0M542.50,143.68h-3.0M289.30,137.45h3.0M542.50,137.45h-3.0M289.30,131.22h6.0M542.50,131.22h-6.0M289.30,124.99h3.0M542.50,124.99h-3.0M289.30,118.76h3.0M542.50,118.76h-3.0M289.30,112.53h3.0M542.50,112.53h-3.0M289.30,106.30h3.0M542.50,106.30h-3.0M289.30,100.07h6.0M542.50,100.07h-6.0M289.30,93.84h3.0M542.50,93.84h-3.0M289.30,87.61h3.0M542.50,87.61h-3.0M289.30,81.39h3.0M542.50,81.39h-3.0M289.30,75.16h3.0M542.50,75.16h-3.0M289.30,68.93h6.0M542.50,68.93h-6.0M289.30,62.70h3.0M542.50,62.70h-3.0M289.30,56.47h3.0M542.50,56.47h-3.0M289.30,50.24h3.0M542.50,50.24h-3.0M289.30,44.01h3.0M542.50,44.01h-3.0M289.30,37.78h6.0M542.50,37.78h-6.0M289.30,31.55h3.0M542.50,31.55h-3.0M289.30,25.32h3.0M542.50,25.32h-3.0M289.30,19.09h3.0M542.50,19.09h-3.0M289.30,12.86h3.0M542.50,12.86h-3.0M289.30,6.63h6.0M542.50,6.63h-6.0M39.73,336.80v-3.0M39.73,168.60v3.0M48.19,336.80v-3.0M48.19,168.60v3.0M56.65,336.80v-6.0M56.65,168.60v6.0M65.11,336.80v-3.0M65.11,168.60v3.0M73.57,336.80v-3.0M73.57,168.60v3.0M82.03,336.80v-3.0M82.03,168.60v3.0M90.49,336.80v-3.0M90.49,168.60v3.0M98.95,336.80v-6.0M98.95,168.60v6.0M107.41,336.80v-3.0M107.41,168.60v3.0M115.87,336.80v-3.0M115.87,168.60v3.0M124.33,336.80v-3.0M124.33,168.60v3.0M132.79,336.80v-3.0M132.79,168.60v3.0M141.25,336.80v-6.0M141.25,168.60v6.0M149.71,336.80v-3.0M149.71,168.60v3.0M158.17,336.80v-3.0M158.17,168.60v3.0M166.63,336.80v-3.0M166.63,168.60v3.0M175.09,336.80v-3.0M175.09,168.60v3.0M183.55,336.80v-6.0M183.55,168.60v6.0M192.01,336.80v-3.0M192.01,168.60v3.0M200.47,336.80v-3.0M200.47,168.60v3.0M208.93,336.80v-3.0M208.93,168.60v3.0M217.39,336.80v-3.0M217.39,168.60v3.0M225.85,336.80v-6.0M225.85,168.60v6.0M234.31,336.80v-3.0M234.31,168.60v3.0M242.77,336.80v-3.0M242.77,168.60v3.0M251.23,336.80v-3.0M251.23,168.60v3.0M259.69,336.80v-3.0M259.69,168.60v3.0M268.15,336.80v-6.0M268.15,168.60v6.0M276.61,336.80v-3.0M276.61,168.60v3.0M285.07,336.80v-3.0M285.07,168.60v3.0M35.50,330.57h6.0M289.30,330.57h-6.0M35.50,324.34h3.0M289.30,324.34h-3.0M35.50,318.11h3.0M289.30,318.11h-3.0M35.50,311.88h3.0M289.30,311.88h-3.0M35.50,305.65h3.0M289.30,305.65h-3.0M35.50,299.42h6.0M289.30,299.42h-6.0M35.50,293.19h3.0M289.30,293.19h-3.0M35.50,286.96h3.0M289.30,286.96h-3.0M35.50,280.73h3.0M289.30,280.73h-3.0M35.50,274.50h3.0M289.30,274.50h-3.0M35.50,268.27h6.0M289.30,268.27h-6.0M35.50,262.04h3.0M289.30,262.04h-3.0M35.50,255.81h3.0M289.30,255.81h-3.0M35.50,249.59h3.0M289.30,249.59h-3.0M35.50,243.36h3.0M289.30,243.36h-3.0M35.50,237.13h6.0M289.30,237.13h-6.0M35.50,230.90h3.0M289.30,230.90h-3.0M35.50,224.67h3.0M289.30,224.67h-3.0M35.50,218.44h3.0M289.30,218.44h-3.0M35.50,212.21h3.0M289.30,212.21h-3.0M35.50,205.98h6.0M289.30,205.98h-6.0M35.50,199.75h3.0M289.30,199.75h-3.0M35.50,193.52h3.0M289.30,193.52h-3.0M35.50,187.29h3.0M289.30,187.29h-3.0M35.50,181.06h3.0M289.30,181.06h-3.0M35.50,174.83h6.0M289.30,174.83h-6.0M293.52,336.80v-3.0M293.52,168.60v3.0M301.96,336.80v-3.0M301.96,168.60v3.0M310.40,336.80v-6.0M310.40,168.60v6.0M318.84,336.80v-3.0M318.84,168.60v3.0M327.28,336.80v-3.0M327.28,168.60v3.0M335.72,336.80v-3.0M335.72,168.60v3.0M344.16,336.80v-3.0M344.16,168.60v3.0M352.60,336.80v-6.0M352.60,168.60v6.0M361.04,336.80v-3.0M361.04,168.60v3.0M369.48,336.80v-3.0M369.48,168.60v3.0M377.92,336.80v-3.0M377.92,168.60v3.0M386.36,336.80v-3.0M386.36,168.60v3.0M394.80,336.80v-6.0M394.80,168.60v6.0M403.24,336.80v-3.0M403.24,168.60v3.0M411.68,336.80v-3.0M411.68,168.60v3.0M420.12,336.80v-3.0M420.12,168.60v3.0M428.56,336.80v-3.0M428.56,168.60v3.0M437.00,336.80v-6.0M437.00,168.60v6.0M445.44,336.80v-3.0M445.44,168.60v3.0M453.88,336.80v-3.0M453.88,168.60v3.0M462.32,336.80v-3.0M462.32,168.60v3.0M470.76,336.80v-3.0M470.76,168.60v3.0M479.20,336.80v-6.0M479.20,168.60v6.0M487.64,336.80v-3.0M487.64,168.60v3.0M496.08,336.80v-3.0M496.08,168.60v3.0M504.52,336.80v-3.0M504.52,168.60v3.0M512.96,336.80v-3.0M512.96,168.60v3.0M521.40,336.80v-6.0M521.40,168.60v6.0M529.84,336.80v-3.0M529.84,168.60v3.0M538.28,336.80v-3.0M538.28,168.60v3.0M289.30,330.57h6.0M542.50,330.57h-6.0M289.30,324.34h3.0M542.50,324.34h-3.0M289.30,318.11h3.0M542.50,318.11h-3.0M289.30,311.88h3.0M542.50,311.88h-3.0M289.30,305.65h3.0M542.50,305.65h-3.0M289.30,299.42h6.0M542.50,299.42h-6.0M289.30,293.19h3.0M542.50,293.19h-3.0M289.30,286.96h3.0M542.50,286.96h-3.0M289.30,280.73h3.0M542.50,280.73h-3.0M289.30,274.50h3.0M542.50,274.50h-3.0M289.30,268.27h6.0M542.50,268.27h-6.0M289.30,262.04h3.0M542.50,262.04h-3.0M289.30,255.81h3.0M542.50,255.81h-3.0M289.30,249.59h3.0M542.50,249.59h-3.0M289.30,243.36h3.0M542.50,243.36h-3.0M289.30,237.13h6.0M542.50,237.13h-6.0M289.30,230.90h3.0M542.50,230.90h-3.0M289.30,224.67h3.0M542.50,224.67h-3.0M289.30,218.44h3.0M542.50,218.44h-3.0M289.30,212.21h3.0M542.50,212.21h-3.0M289.30,205.98h6.0M542.50,205.98h-6.0M289.30,199.75h3.0M542.50,199.75h-3.0M289.30,193.52h3.0M542.50,193.52h-3.0M289.30,187.29h3.0M542.50,187.29h-3.0M289.30,181.06h3.0M542.50,181.06h-3.0M289.30,174.83h6.0M542.50,174.83h-6.0" stroke="#707070" stroke-width="0.9" fill="none"/>
<path d="M35.5,0.5H543M35.5,0V337.1M542.5,0V337.1" stroke="#383838" stroke-width="1.1" fill="none"/>
<path d="M35,168.6H543M289.3,0V337" stroke="#787878" stroke-width="1.7" fill="none"/>
<path d="M35,336.95H543" stroke="#4a4a4a" stroke-width="1.4" fill="none"/>
<text x="69.80" y="26.50" style="letter-spacing:1.20px" textLength="13.48" lengthAdjust="spacingAndGlyphs">A1</text>
<text x="69.26" y="42.30" style="letter-spacing:1.20px" textLength="15.42" lengthAdjust="spacingAndGlyphs">B1</text>
<text x="323.60" y="26.50" style="letter-spacing:1.20px" textLength="14.33" lengthAdjust="spacingAndGlyphs">A2</text>
<text x="323.03" y="42.30" style="letter-spacing:1.20px" textLength="15.95" lengthAdjust="spacingAndGlyphs">B2</text>
<text x="69.80" y="194.70" style="letter-spacing:1.20px" textLength="13.48" lengthAdjust="spacingAndGlyphs">A1</text>
<text x="69.26" y="210.50" style="letter-spacing:1.20px" textLength="15.42" lengthAdjust="spacingAndGlyphs">B1</text>
<text x="323.60" y="194.70" style="letter-spacing:1.20px" textLength="14.33" lengthAdjust="spacingAndGlyphs">A2</text>
<text x="323.03" y="210.50" style="letter-spacing:1.20px" textLength="15.95" lengthAdjust="spacingAndGlyphs">B2</text>
<text x="196.16" y="90.60" style="letter-spacing:1.20px" textLength="11.21" lengthAdjust="spacingAndGlyphs">M</text>
<text x="209.80" y="90.60" textLength="25.08" lengthAdjust="spacing">=5.6</text>
<text x="239.51" y="90.60" style="letter-spacing:1.20px" textLength="10.55" lengthAdjust="spacingAndGlyphs">M</text>
<text x="197.40" y="102.60" style="letter-spacing:1.20px" textLength="6.63" lengthAdjust="spacingAndGlyphs">r</text>
<text x="216.00" y="102.60" textLength="33.03" lengthAdjust="spacing">=11.5</text>
<text x="253.90" y="102.60" style="letter-spacing:1.20px" textLength="26.59" lengthAdjust="spacingAndGlyphs">mas</text>
<text x="197.60" y="115.00" style="letter-spacing:1.20px" textLength="3.79" lengthAdjust="spacingAndGlyphs">i</text>
<text x="204.80" y="115.00" textLength="24.38" lengthAdjust="spacing">=7.7</text>
<text x="234.90" y="115.00" style="letter-spacing:1.20px" textLength="22.22" lengthAdjust="spacingAndGlyphs">deg</text>
<text x="196.16" y="131.30" style="letter-spacing:1.20px" textLength="11.21" lengthAdjust="spacingAndGlyphs">M</text>
<text x="209.80" y="131.30" textLength="25.08" lengthAdjust="spacing">=5.3</text>
<text x="239.51" y="131.30" style="letter-spacing:1.20px" textLength="10.55" lengthAdjust="spacingAndGlyphs">M</text>
<text x="197.40" y="143.60" style="letter-spacing:1.20px" textLength="6.63" lengthAdjust="spacingAndGlyphs">r</text>
<text x="216.00" y="143.60" textLength="33.03" lengthAdjust="spacing">=11.6</text>
<text x="253.90" y="143.60" style="letter-spacing:1.20px" textLength="26.59" lengthAdjust="spacingAndGlyphs">mas</text>
<text x="197.60" y="156.00" style="letter-spacing:1.20px" textLength="3.79" lengthAdjust="spacingAndGlyphs">i</text>
<text x="204.80" y="156.00" textLength="24.38" lengthAdjust="spacing">=7.4</text>
<text x="234.90" y="156.00" style="letter-spacing:1.20px" textLength="22.22" lengthAdjust="spacingAndGlyphs">deg</text>
<text x="449.96" y="90.60" style="letter-spacing:1.20px" textLength="11.21" lengthAdjust="spacingAndGlyphs">M</text>
<text x="463.60" y="90.60" textLength="25.08" lengthAdjust="spacing">=6.5</text>
<text x="493.31" y="90.60" style="letter-spacing:1.20px" textLength="10.55" lengthAdjust="spacingAndGlyphs">M</text>
<text x="451.20" y="102.60" style="letter-spacing:1.20px" textLength="6.63" lengthAdjust="spacingAndGlyphs">r</text>
<text x="469.80" y="102.60" textLength="32.48" lengthAdjust="spacing">=10.5</text>
<text x="507.70" y="102.60" style="letter-spacing:1.20px" textLength="26.59" lengthAdjust="spacingAndGlyphs">mas</text>
<text x="451.40" y="115.00" style="letter-spacing:1.20px" textLength="3.79" lengthAdjust="spacingAndGlyphs">i</text>
<text x="458.60" y="115.00" textLength="24.38" lengthAdjust="spacing">=9.0</text>
<text x="488.70" y="115.00" style="letter-spacing:1.20px" textLength="22.22" lengthAdjust="spacingAndGlyphs">deg</text>
<text x="449.96" y="131.30" style="letter-spacing:1.20px" textLength="11.21" lengthAdjust="spacingAndGlyphs">M</text>
<text x="463.60" y="131.30" textLength="25.08" lengthAdjust="spacing">=5.6</text>
<text x="493.31" y="131.30" style="letter-spacing:1.20px" textLength="10.55" lengthAdjust="spacingAndGlyphs">M</text>
<text x="451.20" y="143.60" style="letter-spacing:1.20px" textLength="6.63" lengthAdjust="spacingAndGlyphs">r</text>
<text x="469.80" y="143.60" textLength="34.03" lengthAdjust="spacing">=11.1</text>
<text x="507.70" y="143.60" style="letter-spacing:1.20px" textLength="26.59" lengthAdjust="spacingAndGlyphs">mas</text>
<text x="451.40" y="156.00" style="letter-spacing:1.20px" textLength="3.79" lengthAdjust="spacingAndGlyphs">i</text>
<text x="458.60" y="156.00" textLength="24.38" lengthAdjust="spacing">=7.8</text>
<text x="488.70" y="156.00" style="letter-spacing:1.20px" textLength="22.22" lengthAdjust="spacingAndGlyphs">deg</text>
<text x="55.96" y="236.90" style="letter-spacing:1.20px" textLength="11.21" lengthAdjust="spacingAndGlyphs">M</text>
<text x="69.60" y="236.90" textLength="25.08" lengthAdjust="spacing">=5.8</text>
<text x="99.31" y="236.90" style="letter-spacing:1.20px" textLength="10.55" lengthAdjust="spacingAndGlyphs">M</text>
<text x="160.30" y="283.70" style="letter-spacing:1.20px" textLength="6.63" lengthAdjust="spacingAndGlyphs">r</text>
<text x="178.90" y="283.70" textLength="33.03" lengthAdjust="spacing">=11.5</text>
<text x="216.00" y="283.70" textLength="33.69" lengthAdjust="spacing">±0.05</text>
<text x="253.80" y="283.70" style="letter-spacing:1.20px" textLength="26.59" lengthAdjust="spacingAndGlyphs">mas</text>
<text x="160.40" y="295.90" style="letter-spacing:1.20px" textLength="3.79" lengthAdjust="spacingAndGlyphs">i</text>
<text x="167.60" y="295.90" textLength="24.38" lengthAdjust="spacing">=7.5</text>
<text x="197.50" y="295.90" textLength="25.09" lengthAdjust="spacing">±0.1</text>
<text x="228.00" y="295.90" style="letter-spacing:1.20px" textLength="22.22" lengthAdjust="spacingAndGlyphs">deg</text>
<text x="160.30" y="311.90" style="letter-spacing:1.20px" textLength="6.63" lengthAdjust="spacingAndGlyphs">r</text>
<text x="178.90" y="311.90" textLength="33.03" lengthAdjust="spacing">=11.6</text>
<text x="216.00" y="311.90" textLength="32.69" lengthAdjust="spacing">±0.06</text>
<text x="253.80" y="311.90" style="letter-spacing:1.20px" textLength="26.59" lengthAdjust="spacingAndGlyphs">mas</text>
<text x="160.40" y="324.40" style="letter-spacing:1.20px" textLength="3.79" lengthAdjust="spacingAndGlyphs">i</text>
<text x="167.60" y="324.40" textLength="25.38" lengthAdjust="spacing">=7.1</text>
<text x="197.50" y="324.40" textLength="25.09" lengthAdjust="spacing">±0.1</text>
<text x="228.00" y="324.40" style="letter-spacing:1.20px" textLength="22.22" lengthAdjust="spacingAndGlyphs">deg</text>
<text x="309.76" y="236.90" style="letter-spacing:1.20px" textLength="11.21" lengthAdjust="spacingAndGlyphs">M</text>
<text x="323.40" y="236.90" textLength="25.08" lengthAdjust="spacing">=5.8</text>
<text x="353.11" y="236.90" style="letter-spacing:1.20px" textLength="10.55" lengthAdjust="spacingAndGlyphs">M</text>
<text x="414.10" y="283.70" style="letter-spacing:1.20px" textLength="6.63" lengthAdjust="spacingAndGlyphs">r</text>
<text x="432.70" y="283.70" textLength="32.48" lengthAdjust="spacing">=10.5</text>
<text x="469.80" y="283.70" textLength="33.69" lengthAdjust="spacing">±0.08</text>
<text x="507.60" y="283.70" style="letter-spacing:1.20px" textLength="26.59" lengthAdjust="spacingAndGlyphs">mas</text>
<text x="414.20" y="295.90" style="letter-spacing:1.20px" textLength="3.79" lengthAdjust="spacingAndGlyphs">i</text>
<text x="421.40" y="295.90" textLength="24.38" lengthAdjust="spacing">=9.5</text>
<text x="451.30" y="295.90" textLength="25.09" lengthAdjust="spacing">±0.3</text>
<text x="481.80" y="295.90" style="letter-spacing:1.20px" textLength="22.22" lengthAdjust="spacingAndGlyphs">deg</text>
<text x="414.10" y="311.90" style="letter-spacing:1.20px" textLength="6.63" lengthAdjust="spacingAndGlyphs">r</text>
<text x="432.70" y="311.90" textLength="34.03" lengthAdjust="spacing">=11.1</text>
<text x="469.80" y="311.90" textLength="32.69" lengthAdjust="spacing">±0.04</text>
<text x="507.60" y="311.90" style="letter-spacing:1.20px" textLength="26.59" lengthAdjust="spacingAndGlyphs">mas</text>
<text x="414.20" y="324.40" style="letter-spacing:1.20px" textLength="3.79" lengthAdjust="spacingAndGlyphs">i</text>
<text x="421.40" y="324.40" textLength="24.38" lengthAdjust="spacing">=7.7</text>
<text x="451.30" y="324.40" textLength="25.09" lengthAdjust="spacing">±0.1</text>
<text x="481.80" y="324.40" style="letter-spacing:1.20px" textLength="22.22" lengthAdjust="spacingAndGlyphs">deg</text>
<path d="M205.30,101.75a2.20,2.75 0 1,0 4.40,0a2.20,2.75 0 1,0 -4.40,0ZM206.35,101.75a1.15,2.00 0 1,0 2.30,0a1.15,2.00 0 1,0 -2.30,0Z" fill="#222" fill-rule="evenodd"/>
<path d="M205.30,142.75a2.20,2.75 0 1,0 4.40,0a2.20,2.75 0 1,0 -4.40,0ZM206.35,142.75a1.15,2.00 0 1,0 2.30,0a1.15,2.00 0 1,0 -2.30,0Z" fill="#222" fill-rule="evenodd"/>
<path d="M459.10,101.75a2.20,2.75 0 1,0 4.40,0a2.20,2.75 0 1,0 -4.40,0ZM460.15,101.75a1.15,2.00 0 1,0 2.30,0a1.15,2.00 0 1,0 -2.30,0Z" fill="#222" fill-rule="evenodd"/>
<path d="M459.10,142.75a2.20,2.75 0 1,0 4.40,0a2.20,2.75 0 1,0 -4.40,0ZM460.15,142.75a1.15,2.00 0 1,0 2.30,0a1.15,2.00 0 1,0 -2.30,0Z" fill="#222" fill-rule="evenodd"/>
<path d="M168.20,282.85a2.20,2.75 0 1,0 4.40,0a2.20,2.75 0 1,0 -4.40,0ZM169.25,282.85a1.15,2.00 0 1,0 2.30,0a1.15,2.00 0 1,0 -2.30,0Z" fill="#222" fill-rule="evenodd"/>
<path d="M168.20,311.05a2.20,2.75 0 1,0 4.40,0a2.20,2.75 0 1,0 -4.40,0ZM169.25,311.05a1.15,2.00 0 1,0 2.30,0a1.15,2.00 0 1,0 -2.30,0Z" fill="#222" fill-rule="evenodd"/>
<path d="M422.00,282.85a2.20,2.75 0 1,0 4.40,0a2.20,2.75 0 1,0 -4.40,0ZM423.05,282.85a1.15,2.00 0 1,0 2.30,0a1.15,2.00 0 1,0 -2.30,0Z" fill="#222" fill-rule="evenodd"/>
<path d="M422.00,311.05a2.20,2.75 0 1,0 4.40,0a2.20,2.75 0 1,0 -4.40,0ZM423.05,311.05a1.15,2.00 0 1,0 2.30,0a1.15,2.00 0 1,0 -2.30,0Z" fill="#222" fill-rule="evenodd"/>
<circle cx="253.55" cy="90.35" r="2.35" fill="none" stroke="#222" stroke-width="0.85"/><circle cx="253.55" cy="90.35" r="0.75" fill="#222"/>
<circle cx="253.55" cy="131.05" r="2.35" fill="none" stroke="#222" stroke-width="0.85"/><circle cx="253.55" cy="131.05" r="0.75" fill="#222"/>
<circle cx="113.35" cy="236.65" r="2.35" fill="none" stroke="#222" stroke-width="0.85"/><circle cx="113.35" cy="236.65" r="0.75" fill="#222"/>
<circle cx="507.35" cy="90.35" r="2.35" fill="none" stroke="#222" stroke-width="0.85"/><circle cx="507.35" cy="90.35" r="0.75" fill="#222"/>
<circle cx="507.35" cy="131.05" r="2.35" fill="none" stroke="#222" stroke-width="0.85"/><circle cx="507.35" cy="131.05" r="0.75" fill="#222"/>
<circle cx="367.15" cy="236.65" r="2.35" fill="none" stroke="#222" stroke-width="0.85"/><circle cx="367.15" cy="236.65" r="0.75" fill="#222"/>
<text x="19.10" y="9.53" textLength="13.40" lengthAdjust="spacing">12</text>
<text x="19.10" y="40.68" textLength="13.96" lengthAdjust="spacing">11</text>
<text x="19.10" y="71.83" textLength="13.40" lengthAdjust="spacing">10</text>
<text x="25.40" y="102.97">9</text>
<text x="25.40" y="134.12">8</text>
<text x="25.40" y="165.27">7</text>
<text x="19.10" y="177.73" textLength="13.40" lengthAdjust="spacing">12</text>
<text x="19.10" y="208.88" textLength="13.96" lengthAdjust="spacing">11</text>
<text x="19.10" y="240.03" textLength="13.40" lengthAdjust="spacing">10</text>
<text x="25.40" y="271.17">9</text>
<text x="25.40" y="302.32">8</text>
<text x="25.40" y="333.47">7</text>
<text x="50.80" y="348.0" textLength="13.88" lengthAdjust="spacing">−4</text>
<text x="93.10" y="348.0" textLength="13.88" lengthAdjust="spacing">−3</text>
<text x="135.40" y="348.0" textLength="13.88" lengthAdjust="spacing">−2</text>
<text x="177.70" y="348.0" textLength="14.88" lengthAdjust="spacing">−1</text>
<text x="224.05" y="348.0">0</text>
<text x="266.35" y="348.0">1</text>
<text x="304.55" y="348.0" textLength="13.88" lengthAdjust="spacing">−4</text>
<text x="346.75" y="348.0" textLength="13.88" lengthAdjust="spacing">−3</text>
<text x="388.95" y="348.0" textLength="13.88" lengthAdjust="spacing">−2</text>
<text x="431.15" y="348.0" textLength="14.88" lengthAdjust="spacing">−1</text>
<text x="477.40" y="348.0">0</text>
<text x="519.60" y="348.0">1</text>
<text x="225.90" y="361.20" style="letter-spacing:1.20px" textLength="7.79" lengthAdjust="spacingAndGlyphs">V</text>
<text x="233.20" y="363.20" style="font-size:8px;letter-spacing:0.80px" textLength="14.60" lengthAdjust="spacingAndGlyphs">LSR</text>
<text x="248.50" y="361.60">−</text>
<text x="255.70" y="361.20" style="letter-spacing:1.20px" textLength="7.90" lengthAdjust="spacingAndGlyphs">V</text>
<text x="263.10" y="363.20" style="font-size:8px;letter-spacing:0.80px" textLength="16.25" lengthAdjust="spacingAndGlyphs">LSR</text>
<text x="283.90" y="361.40">(</text>
<text x="288.80" y="361.60" style="letter-spacing:1.20px" textLength="21.25" lengthAdjust="spacingAndGlyphs">km</text>
<text x="313.10" y="361.60" style="letter-spacing:1.20px" textLength="5.28" lengthAdjust="spacingAndGlyphs">s</text>
<text x="318.70" y="358.00" style="font-size:8px" textLength="10.42" lengthAdjust="spacing">−1</text>
<text x="331.90" y="361.40">)</text>
<text x="-1.10" y="0.00" style="letter-spacing:0.90px" textLength="54.18" lengthAdjust="spacingAndGlyphs" transform="translate(9.6,262.20) rotate(-90)">Distance</text>
<text x="-1.26" y="0.00" style="letter-spacing:0.90px" textLength="34.01" lengthAdjust="spacingAndGlyphs" transform="translate(9.6,200.20) rotate(-90)">from</text>
<text x="0.00" y="0.00" style="letter-spacing:0.90px" textLength="40.55" lengthAdjust="spacingAndGlyphs" transform="translate(9.6,159.80) rotate(-90)">center</text>
<text x="0.00" y="0.00" style="letter-spacing:0.90px" textLength="36.92" lengthAdjust="spacingAndGlyphs" transform="translate(9.6,108.50) rotate(-90)">(mas)</text>
<circle cx="267.9" cy="351.9" r="0.95" fill="#111"/>
<path d="M170.20,100.90h4.4m3.4,0h4.4" stroke="#0000ff" stroke-width="1.5" fill="none"/>
<path d="M170.20,141.50h4.4m3.4,0h4.4" stroke="#ff0000" stroke-width="1.5" fill="none"/>
<path d="M424.00,100.70h4.4m3.4,0h4.4" stroke="#0000ff" stroke-width="1.5" fill="none"/>
<path d="M424.00,141.30h4.4m3.4,0h4.4" stroke="#ff0000" stroke-width="1.5" fill="none"/>
<path d="M133.10,287.20h4.4m3.4,0h4.4" stroke="#0000ff" stroke-width="1.5" fill="none"/>
<path d="M133.10,316.00h4.4m3.4,0h4.4" stroke="#ff0000" stroke-width="1.5" fill="none"/>
<path d="M387.20,287.60h4.4m3.4,0h4.4" stroke="#0000ff" stroke-width="1.5" fill="none"/>
<path d="M387.20,316.30h4.4m3.4,0h4.4" stroke="#ff0000" stroke-width="1.5" fill="none"/>
</svg>
</body></html>
